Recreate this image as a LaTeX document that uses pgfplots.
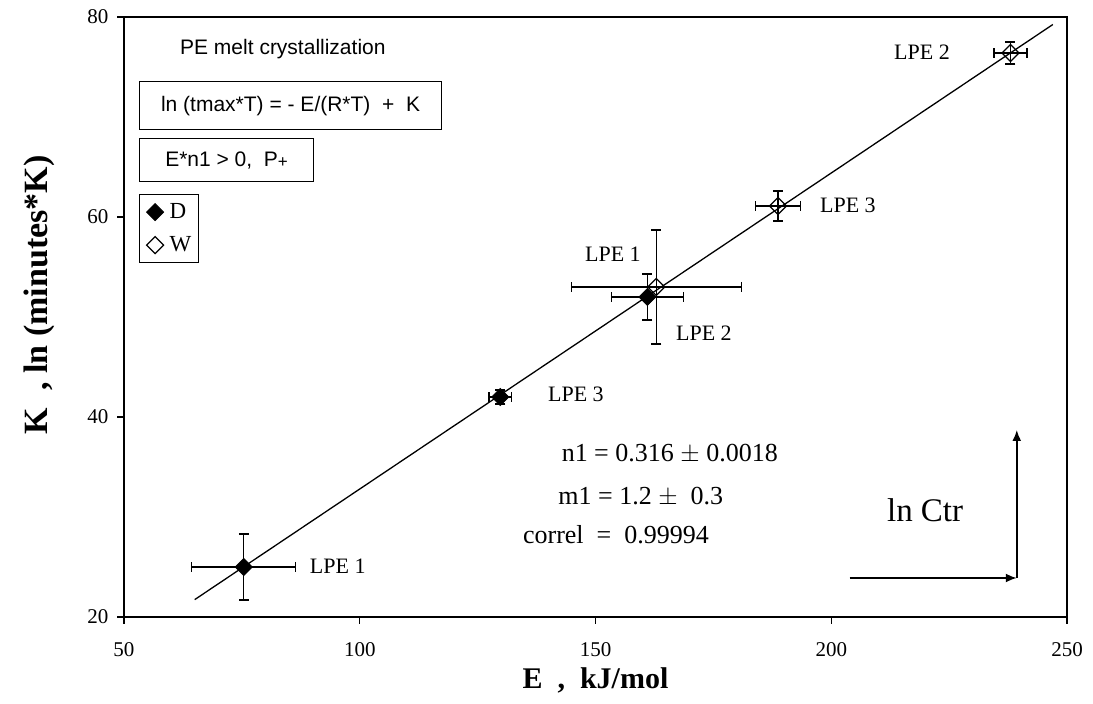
\documentclass[border=0pt]{standalone}
\usepackage{fontspec}
\setmainfont{Liberation Serif}
\newfontfamily\sansf{Liberation Sans}
\usepackage{pgfplots}
\usepackage{pgfplotstable}
\pgfplotsset{compat=1.18}
\usetikzlibrary{arrows.meta}

% diamond drawn as a square turned by 45 degrees
\pgfdeclareplotmark{rdiamond}{%
  \pgfpathmoveto{\pgfqpoint{0pt}{\pgfplotmarksize}}%
  \pgfpathlineto{\pgfqpoint{\pgfplotmarksize}{0pt}}%
  \pgfpathlineto{\pgfqpoint{0pt}{-\pgfplotmarksize}}%
  \pgfpathlineto{\pgfqpoint{-\pgfplotmarksize}{0pt}}%
  \pgfpathclose\pgfusepathqstroke}
\pgfdeclareplotmark{rdiamond*}{%
  \pgfpathmoveto{\pgfqpoint{0pt}{\pgfplotmarksize}}%
  \pgfpathlineto{\pgfqpoint{\pgfplotmarksize}{0pt}}%
  \pgfpathlineto{\pgfqpoint{0pt}{-\pgfplotmarksize}}%
  \pgfpathlineto{\pgfqpoint{-\pgfplotmarksize}{0pt}}%
  \pgfpathclose\pgfusepathqfillstroke}

% activation energy E, constant K and their uncertainties
\pgfplotstableread{
E      K     dE    dK
75.4   25.0  11.0  3.3
129.8  42.0  2.4   0.7
161.0  52.0  7.6   2.3
}\Ddata
\pgfplotstableread{
E      K     dE    dK
162.9  53.0  18.0  5.7
188.7  61.1  4.7   1.5
238.0  76.4  3.5   1.1
}\Wdata

\begin{document}
\begin{tikzpicture}
\useasboundingbox (-124pt,-87pt) rectangle (969pt,617pt);
\begin{axis}[
  scale only axis, width=943pt, height=600pt,
  xmin=50, xmax=250, ymin=20, ymax=80,
  xtick={50,100,150,200,250}, ytick={20,40,60,80},
  tick pos=left,
  tick align=outside, major tick length=7pt,
  axis line style={line width=1.3pt},
  tick style={line width=1.3pt, black},
  ticklabel style={font=\fontsize{21}{24}\selectfont},
  xticklabel style={yshift=-15pt},
  yticklabel style={xshift=-5pt},
  /pgf/number format/assume math mode=true,
  xlabel={E\ \ ,\ \ kJ/mol},
  ylabel={K\ \ ,\ ln (minutes*K)},
  xlabel style={font=\bfseries\fontsize{30}{32}\selectfont,
    at={(axis description cs:0.5,-0.105)}, anchor=center},
  ylabel style={font=\bfseries\fontsize{34}{36}\selectfont,
    at={(axis description cs:-0.090,0.537)}, anchor=center},
  legend style={at={(axis description cs:0.0159,0.705)}, anchor=north west,
    draw=black, line width=1.2pt, font=\fontsize{23}{25}\selectfont,
    nodes={inner sep=0pt},
    inner xsep=7pt, inner ysep=9pt, row sep=16pt, cells={anchor=west},
    /tikz/every odd column/.append style={column sep=6pt}},
  legend image code/.code={\draw[#1, mark size=8.5pt, line width=0.8pt] plot coordinates {(8.5pt,0pt)};},
  error bars/error bar style={line width=1.2pt, black},
  error bars/error mark options={rotate=90, line width=1.2pt, mark size=5pt, black},
]
% fitted line K = n1*E + m1
\addplot[black, line width=1.3pt, no marks, forget plot] coordinates {(65,21.74) (247,79.25)};

\addplot[only marks, mark=rdiamond*, mark size=8.5pt,
  mark options={fill=black, draw=black, line width=0.8pt},
  error bars/.cd, x dir=both, x explicit, y dir=both, y explicit]
  table[x=E, y=K, x error=dE, y error=dK] \Ddata;
\addlegendentry{D}

\addplot[only marks, mark=rdiamond, mark size=8.5pt,
  mark options={draw=black, line width=1.2pt},
  error bars/.cd, x dir=both, x explicit, y dir=both, y explicit]
  table[x=E, y=K, x error=dE, y error=dK] \Wdata;
\addlegendentry{W}

% sample labels
\begin{scope}[every node/.style={inner sep=0pt, anchor=west, font=\fontsize{22}{24}\selectfont}]
\node at (axis cs:89.4,25.1) {LPE 1};
\node at (axis cs:139.9,42.3) {LPE 3};
\node at (axis cs:147.75,56.3) {LPE 1};
\node at (axis cs:167.05,48.4) {LPE 2};
\node at (axis cs:197.6,61.2) {LPE 3};
\node at (axis cs:213.3,76.5) {LPE 2};
\end{scope}

% fit statistics
\begin{scope}[every node/.style={inner sep=0pt, anchor=west, font=\fontsize{26}{28}\selectfont}]
\node at (axis cs:142.8,36.3) {n1 = 0.316 $\pm$ 0.0018};
\node at (axis cs:142.1,32.0) {m1 = 1.2 $\pm$\ \ 0.3};
\node at (axis cs:134.6,28.2) {correl\ \ =\ \ 0.99994};
\end{scope}

% headings and equation boxes
\node[inner sep=0pt, anchor=west, font=\sansf\fontsize{21}{24}\selectfont]
  at (axis cs:61.87,76.77) {PE melt crystallization};
\node[draw, line width=1.2pt, anchor=north west, minimum width=302pt, minimum height=48pt,
  inner sep=0pt, font=\sansf\fontsize{21}{24}\selectfont]
  at (axis cs:53.18,73.6) {ln (tmax*T) = - E/(R*T)\ \ +\ \ K};
\node[draw, line width=1.2pt, anchor=north west, minimum width=174pt, minimum height=43pt,
  inner sep=0pt, font=\sansf\fontsize{21}{24}\selectfont]
  at (axis cs:53.18,67.9) {E*n1 {\textgreater} 0,\ \ P{\fontsize{17}{17}\selectfont\raisebox{-1.5pt}{+}}};

% direction marker
\node[inner sep=0pt, anchor=west, font=\fontsize{33}{36}\selectfont] at (axis cs:211.8,30.7) {ln Ctr};
\draw[line width=1.8pt, -{Latex[length=11pt,width=9pt]}] (axis cs:203.9,23.9) -- (axis cs:239.35,23.9);
\draw[line width=1.8pt, -{Latex[length=11pt,width=9pt]}] (axis cs:239.35,23.9) -- (axis cs:239.35,38.7);
\end{axis}
\end{tikzpicture}
\end{document}
